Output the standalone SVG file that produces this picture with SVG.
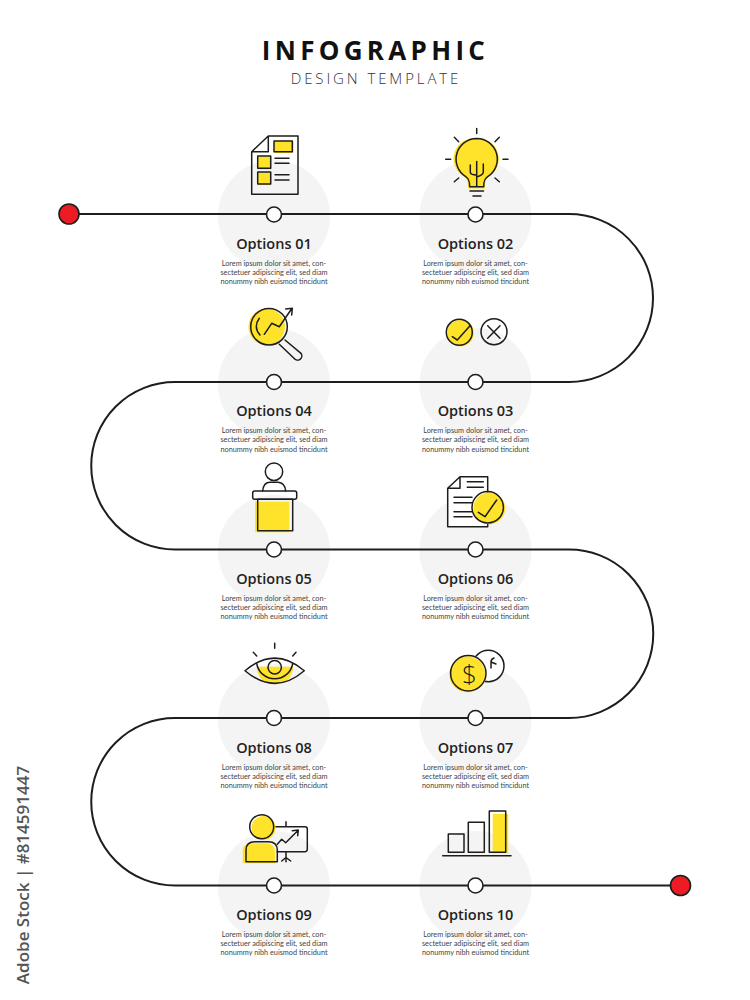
<svg xmlns="http://www.w3.org/2000/svg" width="750" height="1000" viewBox="0 0 750 1000">
<style>
text{font-family:"Open Sans","Noto Sans","Liberation Sans",sans-serif;text-anchor:middle;fill:#222}
.h{font-size:14.5px;font-weight:600}
.b{font-family:Lato,"Open Sans",sans-serif;font-size:7.300px;fill:#444}
.ic{fill:none;stroke:#1d1d1b;stroke-width:1.5;stroke-linecap:round;stroke-linejoin:round}
.w{fill:#fff}
.y{fill:#ffe32a;stroke:none}
.bg{fill:#f4f4f4}
.dot{fill:#fff;stroke:#1d1d1b;stroke-width:1.6}
.end{fill:#ed1c24;stroke:#1d1d1b;stroke-width:1.6}
</style>
<rect width="750" height="1000" fill="#fff"/>
<g id="header">
<text x="375.500" y="60" font-size="26" font-weight="700" letter-spacing="4.300" style="fill:#111">INFOGRAPHIC</text>
<text x="376" y="83.500" font-size="15" font-weight="300" letter-spacing="2.900" style="fill:#333">DESIGN TEMPLATE</text>
</g>
<g id="backdrops">
<circle class="bg" cx="274" cy="216" r="56"/><circle class="bg" cx="475.500" cy="216" r="56"/>
<circle class="bg" cx="274" cy="384" r="56"/><circle class="bg" cx="475.500" cy="384" r="56"/>
<circle class="bg" cx="274" cy="551" r="56"/><circle class="bg" cx="475.500" cy="551" r="56"/>
<circle class="bg" cx="274" cy="720" r="56"/><circle class="bg" cx="475.500" cy="720" r="56"/>
<circle class="bg" cx="274" cy="887" r="56"/><circle class="bg" cx="475.500" cy="887" r="56"/>
</g>
<g id="connectors">
<path d="M69 214H569A84 84 0 0 1 569 382H175A83.750 83.750 0 0 0 175 549.500H569A84.250 84.250 0 0 1 569 718H175A83.750 83.750 0 0 0 175 885.500H680" fill="none" stroke="#1d1d1b" stroke-width="2"/>
</g>
<g id="start"><circle class="end" cx="69" cy="214" r="10"/></g>
<g id="end"><circle class="end" cx="680.500" cy="885.500" r="10"/></g>

<g id="node-01">
<circle class="dot" cx="274" cy="214.500" r="7.500"/>
<rect class="y" x="274" y="141" width="19.500" height="12"/><rect class="y" x="258" y="156.500" width="13.500" height="13"/><rect class="y" x="258" y="172.500" width="13.500" height="12.500"/>
<path class="ic" d="M268.300 136H298V194.300H251.700V151.700ZM268.300 136V151.700H251.700"/>
<path class="ic" d="M274 141H292.300V151.700H274ZM257.700 156H270.700V168.300H257.700ZM257.700 172H270.700V184H257.700ZM275 158.300H289M275 163.300H289M275 174.700H289M275 180H289"/>
<text class="h" x="274" y="249">Options 01</text>
<text class="b" x="274" y="265.500">Lorem ipsum dolor sit amet, con-</text><text class="b" x="274" y="274.800">sectetuer adipiscing elit, sed diam</text><text class="b" x="274" y="284">nonummy nibh euismod tincidunt</text>
</g>

<g id="node-02">
<circle class="dot" cx="475.500" cy="214.500" r="7.500"/>
<path class="y" d="M478 138.500a20.500 20.500 0 0 1 11 38c-3 2-4 5-4 12h-17c0-7-1-10-4-12a20.500 20.500 0 0 1 14-38z"/>
<path class="ic" d="M476.700 138.500a20.700 20.700 0 0 1 11 38.200c-3 2-4 4-4 10h-14c0-6-1-8-4-10a20.700 20.700 0 0 1 11-38.200zM476.700 161.500V186M470.300 165V172Q470.300 175 476.700 175M483.300 164V172Q483.300 175 476.700 177M470 191H483.500M473 196H481M476.700 128.500V133.500M445.700 159.300H450.700M503 159.300H508M454.300 137.300L458.700 141.700M499.300 137.300L495 141.700M454.300 181.700L458.700 178M499.300 181.700L495 178"/>
<text class="h" x="475.500" y="249">Options 02</text>
<text class="b" x="475.500" y="265.500">Lorem ipsum dolor sit amet, con-</text><text class="b" x="475.500" y="274.800">sectetuer adipiscing elit, sed diam</text><text class="b" x="475.500" y="284">nonummy nibh euismod tincidunt</text>
</g>

<g id="node-03">
<circle class="dot" cx="475.500" cy="382" r="7.500"/>
<circle class="y" cx="460.500" cy="333" r="13.300"/>
<circle class="ic" cx="459.300" cy="332.300" r="13"/><path class="ic" d="M452.300 336.700L457.300 340L470 325.700"/>
<circle class="ic" cx="494" cy="331.700" r="13"/><path class="ic" d="M487.700 325.700L500 338.300M500 325.700L487.700 338.300"/>
<text class="h" x="475.500" y="416">Options 03</text>
<text class="b" x="475.500" y="433">Lorem ipsum dolor sit amet, con-</text><text class="b" x="475.500" y="442.300">sectetuer adipiscing elit, sed diam</text><text class="b" x="475.500" y="451.500">nonummy nibh euismod tincidunt</text>
</g>

<g id="node-04">
<circle class="dot" cx="274" cy="382" r="7.500"/>
<circle class="y" cx="266.700" cy="326.700" r="18.300"/>
<circle class="ic" cx="269" cy="326.700" r="18.300"/>
<path class="ic" d="M279.300 344.300L294 358.300A3.500 3.500 0 0 0 301 353.300L285 340M259.300 318.300Q253 327 260 335M264.300 334.300L271.700 323.300L279.300 326.700L291.500 309M285.700 309L292.300 308.300L291.700 315"/>
<text class="h" x="274" y="416">Options 04</text>
<text class="b" x="274" y="433">Lorem ipsum dolor sit amet, con-</text><text class="b" x="274" y="442.300">sectetuer adipiscing elit, sed diam</text><text class="b" x="274" y="451.500">nonummy nibh euismod tincidunt</text>
</g>

<g id="node-05">
<circle class="dot" cx="274" cy="549.500" r="7.500"/>
<rect class="y" x="255" y="501.700" width="34.300" height="30.600"/>
<circle class="ic" cx="274" cy="471.700" r="8.700"/>
<path class="ic" d="M262.700 491Q263.500 482.300 270 482.300H278Q285 483 285.700 491"/>
<rect class="ic" x="252.700" y="491" width="44" height="8.300" rx="2"/>
<rect class="ic" x="257.700" y="499.300" width="35" height="31.400"/>
<text class="h" x="274" y="583.500">Options 05</text>
<text class="b" x="274" y="600.500">Lorem ipsum dolor sit amet, con-</text><text class="b" x="274" y="609.800">sectetuer adipiscing elit, sed diam</text><text class="b" x="274" y="619">nonummy nibh euismod tincidunt</text>
</g>

<g id="node-06">
<circle class="dot" cx="475.500" cy="549.500" r="7.500"/>
<path class="ic w" d="M460 476.700H487.700V526.700H447.700V488.300ZM460 476.700V488.300H447.700"/>
<path class="ic" d="M467.300 481.700H483.300M467.300 487.300H483.300M454 497.300H472M454 502.700H472M454 511.700H472M454 516.700H472"/>
<circle class="y" cx="489.300" cy="508.300" r="16"/>
<circle class="ic" cx="487.700" cy="507.300" r="15.700"/>
<path class="ic" d="M478.300 512.300L485 516.700L496.700 500"/>
<text class="h" x="475.500" y="583.500">Options 06</text>
<text class="b" x="475.500" y="600.500">Lorem ipsum dolor sit amet, con-</text><text class="b" x="475.500" y="609.800">sectetuer adipiscing elit, sed diam</text><text class="b" x="475.500" y="619">nonummy nibh euismod tincidunt</text>
</g>

<g id="node-07">
<circle class="dot" cx="475.500" cy="718" r="7.500"/>
<circle class="ic w" cx="488.300" cy="666" r="15.700"/>
<path class="ic" d="M491 668V662Q491 659 494 658M491 662L496 664"/>
<circle class="w" cx="468.300" cy="673.300" r="18.500"/>
<circle class="y" cx="467.300" cy="674.300" r="18"/>
<circle class="ic" cx="468.300" cy="673.300" r="17.700"/>
<text x="469.500" y="683" font-size="26" font-weight="300" style="fill:#1d1d1b">$</text>
<text class="h" x="475.500" y="753">Options 07</text>
<text class="b" x="475.500" y="769.500">Lorem ipsum dolor sit amet, con-</text><text class="b" x="475.500" y="778.800">sectetuer adipiscing elit, sed diam</text><text class="b" x="475.500" y="788">nonummy nibh euismod tincidunt</text>
</g>

<g id="node-08">
<circle class="dot" cx="274" cy="718" r="7.500"/>
<path class="y" d="M256.700 666.700H293.300Q292 683.500 274.700 684Q258 683.500 256.700 666.700Z"/>
<path class="ic" d="M245 670.700Q274.700 645.500 304.300 670.700Q274.700 696 245 670.700ZM256.700 663.300A18.200 18.200 0 0 0 292.700 663.300M274.700 643.300V648.300M253.300 652.300L256.700 656M296 652.300L292.700 656"/>
<circle class="ic" cx="274.700" cy="667.300" r="6.700"/>
<text class="h" x="274" y="753">Options 08</text>
<text class="b" x="274" y="769.500">Lorem ipsum dolor sit amet, con-</text><text class="b" x="274" y="778.800">sectetuer adipiscing elit, sed diam</text><text class="b" x="274" y="788">nonummy nibh euismod tincidunt</text>
</g>

<g id="node-09">
<circle class="dot" cx="274" cy="885.500" r="7.500"/>
<path class="ic" d="M273.300 826.700H305A2.300 2.300 0 0 1 307.300 829V849.400A2.300 2.300 0 0 1 305 851.700H277.300M286 821.700V826.700M286 851.700V861.700M281.700 861L286 857.500L290.700 861M277.300 844.300L281.700 839.300L285.700 842.700L297.700 830.700M292.300 830.700L298.300 830L297.700 835.700"/>
<circle class="y" cx="263.500" cy="828" r="12"/>
<path class="y" d="M242.700 863.300V851Q242.700 843.300 252 843.300H266Q275 843.300 275 852V863.300Z"/>
<circle class="ic" cx="261.700" cy="826.700" r="12"/>
<path class="ic" d="M246 861.700V850Q246 841.700 255 841.700H268.300Q277.300 841.700 277.300 850V861.700Z"/>
<text class="h" x="274" y="919.500">Options 09</text>
<text class="b" x="274" y="936.500">Lorem ipsum dolor sit amet, con-</text><text class="b" x="274" y="945.800">sectetuer adipiscing elit, sed diam</text><text class="b" x="274" y="955">nonummy nibh euismod tincidunt</text>
</g>

<g id="node-10">
<circle class="dot" cx="475.500" cy="885.500" r="7.500"/>
<rect class="y" x="492.700" y="814" width="15.600" height="39.300"/>
<path class="ic" d="M448.300 834H464V852.300H448.300ZM468.300 822.300H484.300V852.300H468.300ZM489.300 811H505.700V852.300H489.300ZM442.700 855.700H511"/>
<text class="h" x="475.500" y="919.500">Options 10</text>
<text class="b" x="475.500" y="936.500">Lorem ipsum dolor sit amet, con-</text><text class="b" x="475.500" y="945.800">sectetuer adipiscing elit, sed diam</text><text class="b" x="475.500" y="955">nonummy nibh euismod tincidunt</text>
</g>

<g id="credit">
<text transform="translate(29 875) rotate(-90)" font-size="17" font-weight="600" style="fill:#555">Adobe Stock | #814591447</text>
</g>
</svg>
